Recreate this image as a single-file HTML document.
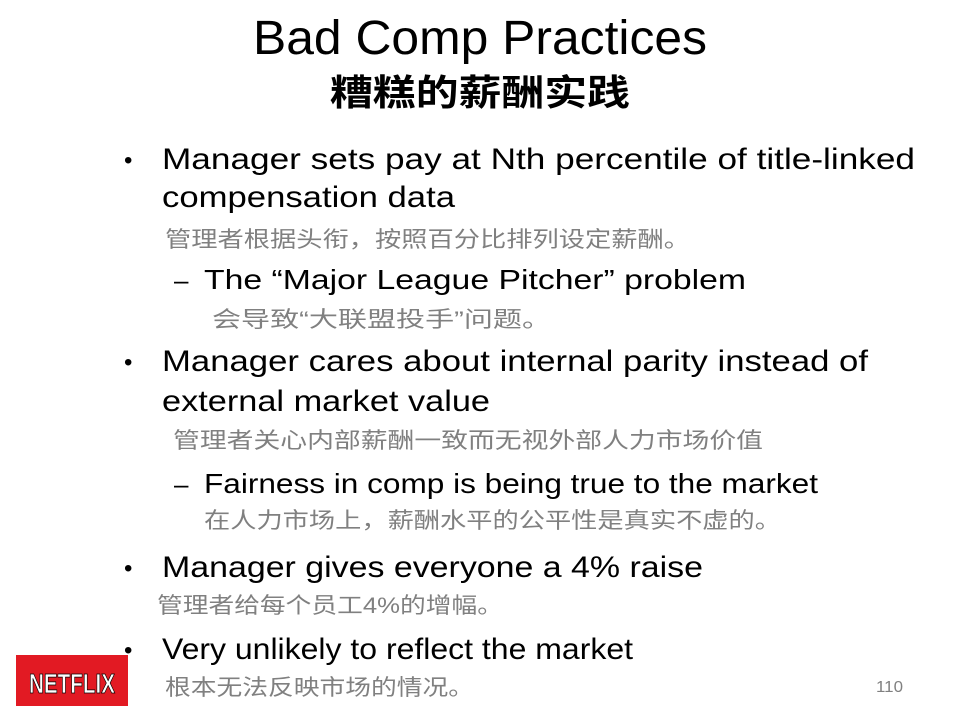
<!DOCTYPE html>
<html><head><meta charset="utf-8"><style>
html,body{margin:0;padding:0;background:#fff;width:960px;height:720px;overflow:hidden}
svg{display:block}
.en{font-family:"Liberation Sans","Noto Sans CJK SC",sans-serif;fill:#000}
.zh{font-family:"Liberation Sans","Noto Sans CJK SC",sans-serif;fill:#808080}
.logo{font-family:"Liberation Sans Narrow","Liberation Sans",sans-serif;font-weight:bold;fill:#fff;stroke:#000;stroke-width:0.8}
</style></head><body>
<svg width="960" height="720" viewBox="0 0 960 720">
<text class="en" x="253" y="54" font-size="48" textLength="454" lengthAdjust="spacingAndGlyphs">Bad Comp Practices</text>
<text class="en" x="330" y="105" font-size="36" font-weight="bold" textLength="300" lengthAdjust="spacingAndGlyphs">糟糕的薪酬实践</text>

<g>
<text class="en" x="124" y="168" font-size="24">•</text>
<text class="en" x="162" y="169" font-size="30" textLength="753" lengthAdjust="spacingAndGlyphs">Manager sets pay at Nth percentile of title-linked</text>
<text class="en" x="162" y="207" font-size="30" textLength="293" lengthAdjust="spacingAndGlyphs">compensation data</text>
<text class="zh" x="165" y="247" font-size="22" textLength="525" lengthAdjust="spacingAndGlyphs">管理者根据头衔，按照百分比排列设定薪酬。</text>
<text class="en" x="174" y="289" font-size="26">–</text>
<text class="en" x="204" y="289" font-size="28" textLength="542" lengthAdjust="spacingAndGlyphs">The “Major League Pitcher” problem</text>
<text class="zh" x="212" y="327" font-size="22" textLength="339" lengthAdjust="spacingAndGlyphs">会导致“大联盟投手”问题。</text>
</g>

<g>
<text class="en" x="124" y="370" font-size="24">•</text>
<text class="en" x="162" y="371" font-size="30" textLength="706" lengthAdjust="spacingAndGlyphs">Manager cares about internal parity instead of</text>
<text class="en" x="162" y="411" font-size="30" textLength="328" lengthAdjust="spacingAndGlyphs">external market value</text>
<text class="zh" x="173" y="448" font-size="22" textLength="590" lengthAdjust="spacingAndGlyphs">管理者关心内部薪酬一致而无视外部人力市场价值</text>
<text class="en" x="174" y="493" font-size="26">–</text>
<text class="en" x="204" y="493" font-size="28" textLength="614" lengthAdjust="spacingAndGlyphs">Fairness in comp is being true to the market</text>
<text class="zh" x="204" y="528" font-size="22" textLength="577" lengthAdjust="spacingAndGlyphs">在人力市场上，薪酬水平的公平性是真实不虚的。</text>
</g>

<g>
<text class="en" x="124" y="576" font-size="24">•</text>
<text class="en" x="162" y="577" font-size="30" textLength="541" lengthAdjust="spacingAndGlyphs">Manager gives everyone a 4% raise</text>
<text class="zh" x="157" y="613" font-size="22" textLength="346" lengthAdjust="spacingAndGlyphs">管理者给每个员工4%的增幅。</text>
</g>

<g>
<text class="en" x="124" y="658" font-size="24">•</text>
<text class="en" x="162" y="659" font-size="30" textLength="471" lengthAdjust="spacingAndGlyphs">Very unlikely to reflect the market</text>
<text class="zh" x="165" y="695" font-size="22" textLength="309" lengthAdjust="spacingAndGlyphs">根本无法反映市场的情况。</text>
</g>

<text class="zh" x="876" y="692" font-size="16" textLength="27" lengthAdjust="spacingAndGlyphs">110</text>

<g>
<rect x="16" y="655" width="112" height="51" fill="#e21a23"/>
<text class="logo" x="29" y="693" font-size="28" textLength="86" lengthAdjust="spacingAndGlyphs">NETFLIX</text>
</g>
</svg>
</body></html>
